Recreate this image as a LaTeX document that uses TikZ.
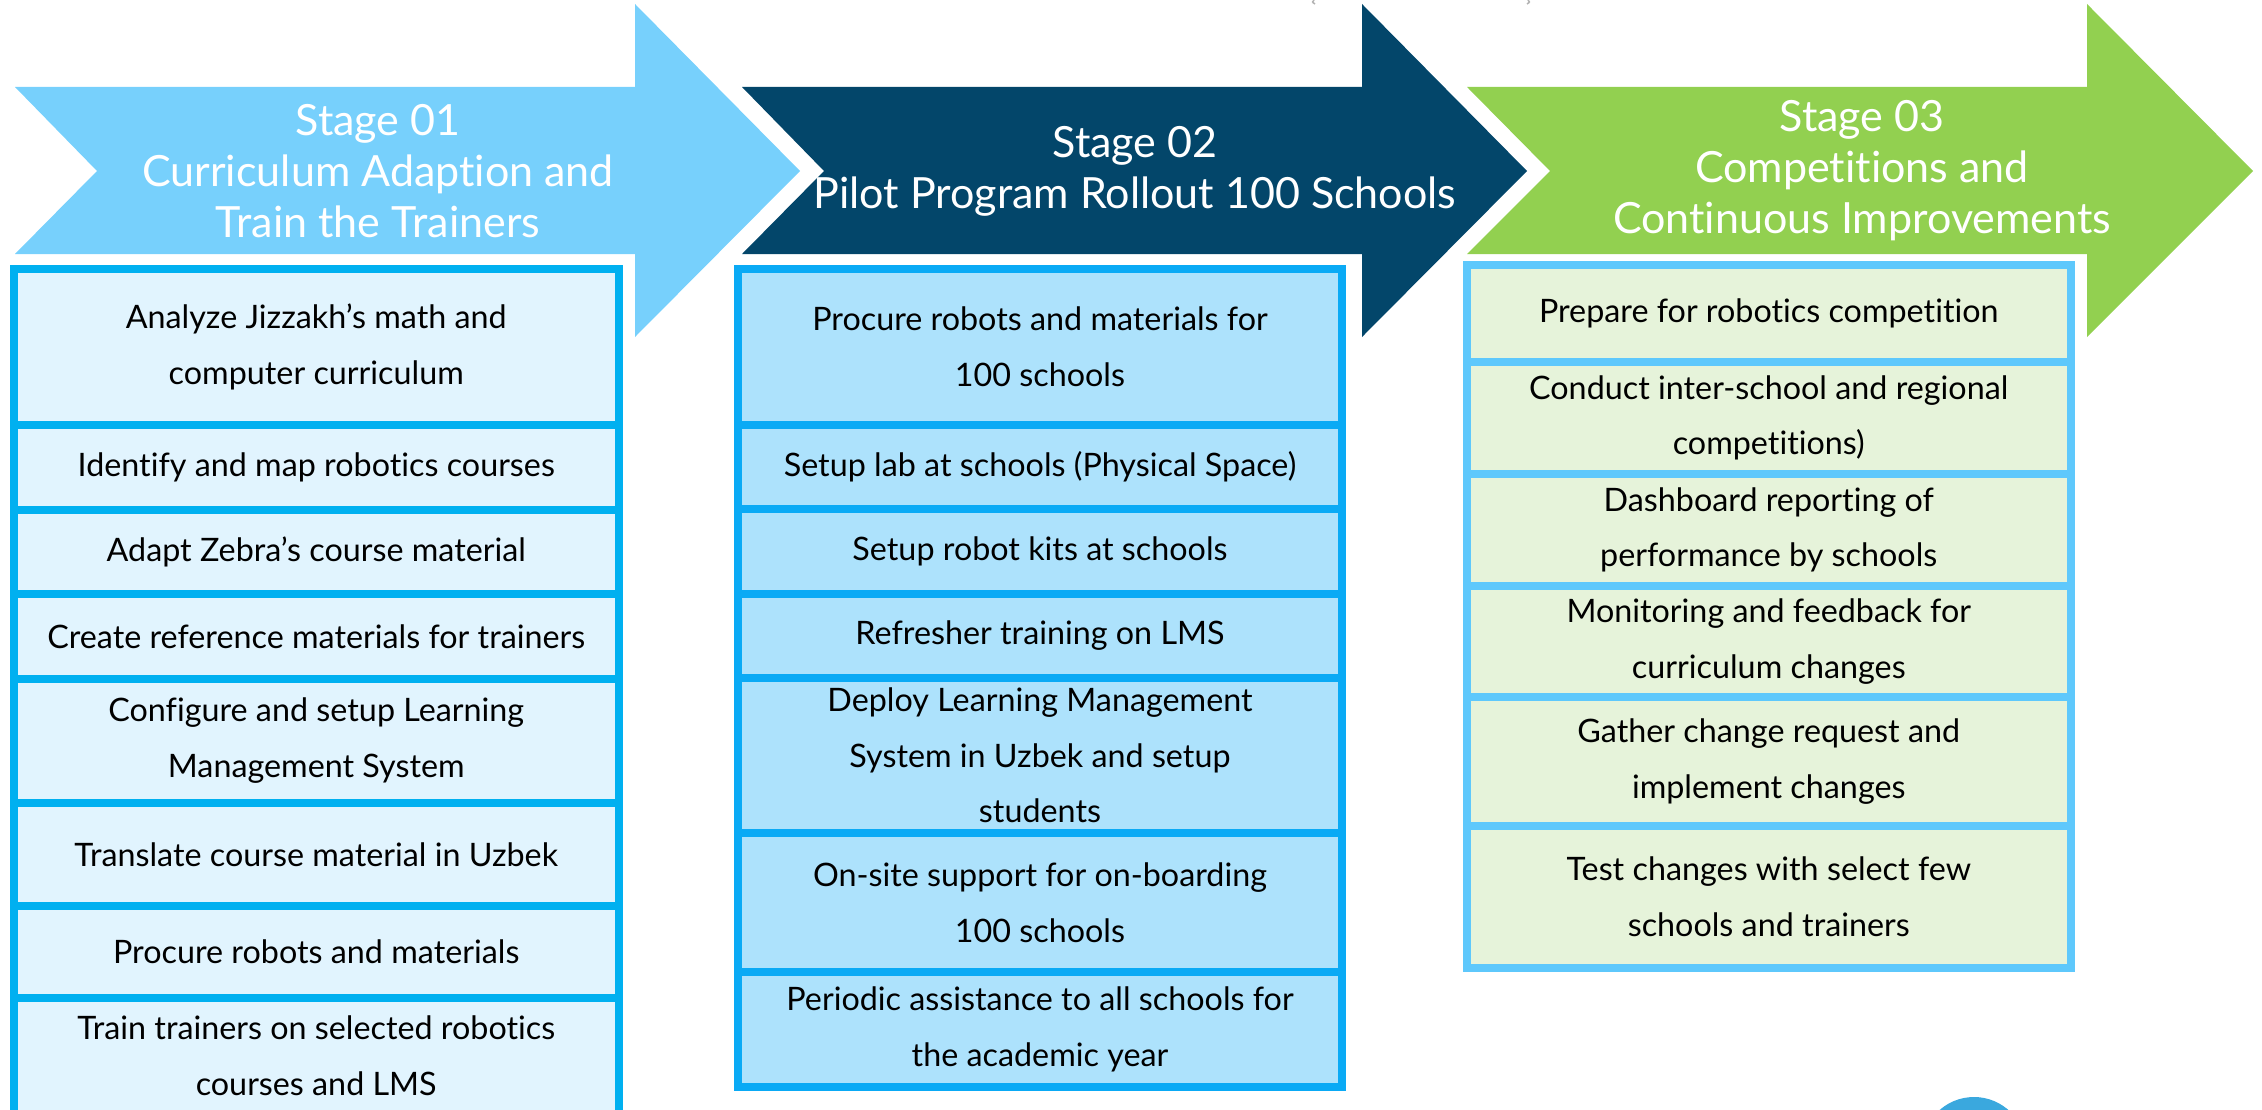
\documentclass[tikz,border=0pt]{standalone}
\usepackage{fontspec}
\setmainfont{Lato}[Ligatures={NoCommon}]
\definecolor{arrowOne}{HTML}{77D0FC}
\definecolor{arrowTwo}{HTML}{03466A}
\definecolor{arrowThree}{HTML}{92D050}
\definecolor{borderOne}{HTML}{00B0F0}
\definecolor{fillOne}{HTML}{E1F4FE}
\definecolor{borderTwo}{HTML}{0AAAF5}
\definecolor{fillTwo}{HTML}{ADE2FC}
\definecolor{borderThree}{HTML}{5EC8FC}
\definecolor{fillThree}{HTML}{E6F3DA}
\definecolor{circleBlue}{HTML}{3AA8DE}
\newcommand\mycell[7]{\node[#2, minimum width={(#5-#3)*1pt}, minimum height={(#6-#4)*1pt}] (#1) at ({(#3+#5)/2},{(#4+#6)/2}) {#7};}
\begin{document}
\begin{tikzpicture}[x=1pt,y=-1pt,
  titletext/.style={text=white, font=\fontsize{43}{51}\selectfont, align=center, inner sep=0pt},
  cellbase/.style={line width=8pt, inner sep=0pt, font=\fontsize{32.3}{55.5}\selectfont, align=center, text=black},
  cellA/.style={cellbase, draw=borderOne, fill=fillOne},
  cellB/.style={cellbase, draw=borderTwo, fill=fillTwo},
  cellC/.style={cellbase, draw=borderThree, fill=fillThree}]
\useasboundingbox (0,0) rectangle (2262,1110);
% stage arrows
\fill[arrowOne] (15,87) -- (635,87) -- (635,4) -- (800,171) -- (635,337) -- (635,254) -- (15,254) -- (97,171) -- cycle;
\fill[arrowTwo] (742,87) -- (1362,87) -- (1362,4) -- (1527,171) -- (1362,337) -- (1362,254) -- (742,254) -- (824,171) -- cycle;
\fill[arrowThree] (1467,87) -- (2087,87) -- (2087,4) -- (2253,171) -- (2087,337) -- (2087,254) -- (1467,254) -- (1550,171) -- cycle;
\node[titletext] (t1) at (378,171) {Stage 01\\Curriculum Adaption and\\Train the Trainers};
\node[titletext] (t2) at (1135,171) {Stage 02\\Pilot Program Rollout 100 Schools};
\node[titletext] (t3) at (1862,171) {Stage 03\\Competitions and\\Continuous Improvements};
% column 1
\mycell{a1}{cellA}{14}{269}{618.5}{425}{Analyze Jizzakh’s math and\\computer curriculum}
\mycell{a2}{cellA}{14}{425}{618.5}{509.5}{Identify and map robotics courses}
\mycell{a3}{cellA}{14}{509.5}{618.5}{594}{Adapt Zebra’s course material}
\mycell{a4}{cellA}{14}{594}{618.5}{678.5}{Create reference materials for trainers}
\mycell{a5}{cellA}{14}{678.5}{618.5}{803}{Configure and setup Learning\\Management System}
\mycell{a6}{cellA}{14}{803}{618.5}{906}{Translate course material in Uzbek}
\mycell{a7}{cellA}{14}{906}{618.5}{997.5}{Procure robots and materials}
\mycell{a8}{cellA}{14}{997.5}{618.5}{1114}{Train trainers on selected robotics\\courses and LMS}
% column 2
\mycell{b1}{cellB}{738}{268.5}{1342}{425}{Procure robots and materials for\\100 schools}
\mycell{b2}{cellB}{738}{425}{1342}{509}{Setup lab at schools (Physical Space)}
\mycell{b3}{cellB}{738}{509}{1342}{594}{Setup robot kits at schools}
\mycell{b4}{cellB}{738}{594}{1342}{677.5}{Refresher training on LMS}
\mycell{b5}{cellB}{738}{677.5}{1342}{833}{Deploy Learning Management\\System in Uzbek and setup\\students}
\mycell{b6}{cellB}{738}{833}{1342}{972}{On-site support for on-boarding\\100 schools}
\mycell{b7}{cellB}{738}{972}{1342}{1086.5}{Periodic assistance to all schools for\\the academic year}
% column 3
\mycell{c1}{cellC}{1466.5}{265}{2071}{361.5}{Prepare for robotics competition}
\mycell{c2}{cellC}{1466.5}{361.5}{2071}{474}{Conduct inter-school and regional\\competitions)}
\mycell{c3}{cellC}{1466.5}{474}{2071}{586}{Dashboard reporting of\\performance by schools}
\mycell{c4}{cellC}{1466.5}{586}{2071}{697}{Monitoring and feedback for\\curriculum changes}
\mycell{c5}{cellC}{1466.5}{697}{2071}{826}{Gather change request and\\implement changes}
\mycell{c6}{cellC}{1466.5}{826}{2071}{967.5}{Test changes with select few\\schools and trainers}
% fragments
\draw[gray!60, line width=1.5pt] (1314,0) .. controls (1312,2) .. (1315,4);
\draw[gray!60, line width=1.5pt] (1528,0) .. controls (1530,2) .. (1527,4);
\fill[circleBlue] (1974,1149) circle (52pt);
\end{tikzpicture}
\end{document}
